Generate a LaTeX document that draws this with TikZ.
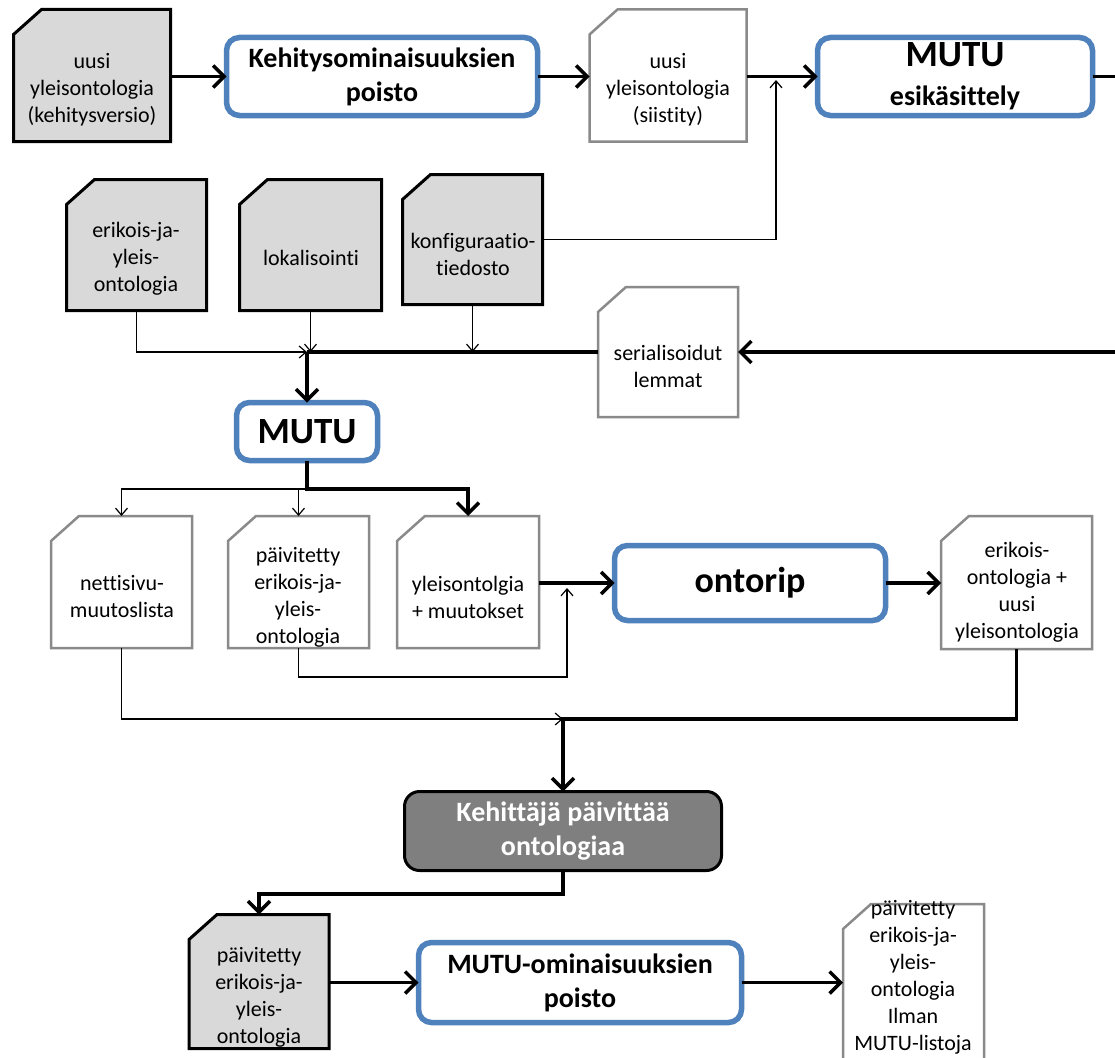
\documentclass[tikz,border=0pt]{standalone}
\usepackage{fontspec}
\setmainfont[Ligatures=NoCommon]{Carlito}
\usetikzlibrary{arrows.meta,backgrounds,calc}
\definecolor{docfill}{HTML}{D9D9D9}
\definecolor{framegray}{HTML}{8A8A8A}
\definecolor{boxblue}{HTML}{4F81BD}
\definecolor{devgray}{HTML}{7F7F7F}
\newcommand\docframe[2]{%
  \filldraw[#2] ([xshift=28pt]#1.north west) -- (#1.north east) -- (#1.south east)
    -- (#1.south west) -- ([yshift=-25pt]#1.north west) -- cycle;}
\tikzset{
  docarea/.style={inner sep=0pt, outer sep=0pt, minimum width=#1},
  darkdoc/.style={fill=docfill, draw=black, line width=3pt, line join=miter},
  lightdoc/.style={fill=white, draw=framegray, line width=2.5pt, line join=miter},
  doctext/.style={align=center, inner sep=0pt, font=\fontsize{22pt}{27pt}\selectfont},
  bluebox/.style={draw=boxblue, line width=5.5pt, fill=white, rounded corners=13pt,
    inner sep=0pt, outer sep=0pt, align=center,
    font=\bfseries\fontsize{28pt}{34pt}\selectfont},
  devbox/.style={draw=black, line width=3pt, fill=devgray, rounded corners=15pt,
    inner sep=0pt, outer sep=0pt, align=center, text=white,
    font=\bfseries\fontsize{28pt}{34pt}\selectfont},
  thk/.style={line width=3.5pt, line join=miter, -{Straight Barb[length=11pt,width=22pt]}},
  thkline/.style={line width=3.5pt, line join=miter},
  thn/.style={line width=1.2pt, -{Straight Barb[length=7pt,width=12pt]}},
}
\begin{document}
\begin{tikzpicture}[x=1pt,y=-1pt]
\useasboundingbox (0,0) rectangle (1115,1057);
% document areas (frames drawn on background layer)
\node[docarea=157pt, minimum height=132pt] (d1) at (92,75.5) {};
\node[docarea=157pt, minimum height=132pt] (d2) at (668,75.5) {};
\node[docarea=140pt, minimum height=131pt] (de) at (136.5,245) {};
\node[docarea=142pt, minimum height=131pt] (dl) at (310.5,245) {};
\node[docarea=140pt, minimum height=130pt] (dk) at (472.5,239.5) {};
\node[docarea=140pt, minimum height=130pt] (ds) at (668,352) {};
\node[docarea=141pt, minimum height=132pt] (dn) at (121.5,582) {};
\node[docarea=141pt, minimum height=132pt] (dp) at (298.5,582) {};
\node[docarea=142pt, minimum height=132pt] (dy) at (468,582) {};
\node[docarea=151pt, minimum height=133pt] (dr) at (1016.5,582.5) {};
\node[docarea=140pt, minimum height=134pt] (db) at (259,981.5) {};
\node[docarea=141pt, minimum height=171pt] (dz) at (913.5,989.5) {};
\begin{scope}[on background layer]
  \fill[white] (0,0) rectangle (1115,1057);
  \docframe{d1}{darkdoc}
  \docframe{d2}{lightdoc}
  \docframe{de}{darkdoc}
  \docframe{dl}{darkdoc}
  \docframe{dk}{darkdoc}
  \docframe{ds}{lightdoc}
  \docframe{dn}{lightdoc}
  \docframe{dp}{lightdoc}
  \docframe{dy}{lightdoc}
  \docframe{dr}{lightdoc}
  \docframe{db}{darkdoc}
  \docframe{dz}{lightdoc}
\end{scope}
% document texts
\node[doctext] (d1t) at (92,90) {uusi\\yleisontologia\\(kehitysversio)};
\node[doctext] (d2t) at (668,90) {uusi\\yleisontologia\\(siistity)};
\node[doctext] (det) at (136,259) {erikois-ja-\\yleis-\\ontologia};
\node[doctext] (dlt) at (311,258) {lokalisointi};
\node[doctext] (dkt) at (473,254) {konfiguraatio-\\tiedosto};
\node[doctext] (dst) at (668,366) {serialisoidut\\lemmat};
\node[doctext] (dnt) at (122,597) {nettisivu-\\muutoslista};
\node[doctext] (dpt) at (298,597) {päivitetty\\erikois-ja-\\yleis-\\ontologia};
\node[doctext] (dyt) at (468,597) {yleisontolgia\\+ muutokset};
\node[doctext] (drt) at (1017,592) {erikois-\\ontologia +\\uusi\\yleisontologia};
\node[doctext] (dbt) at (259,997) {päivitetty\\erikois-ja-\\yleis-\\ontologia};
\node[doctext] (dzt) at (913,977) {päivitetty\\erikois-ja-\\yleis-\\ontologia\\Ilman\\MUTU-listoja};
% process boxes
\node[bluebox, minimum width=311pt, minimum height=78pt] (kb) at (382,76.5) {Kehitysominaisuuksien\\poisto};
\node[bluebox, minimum width=275pt, minimum height=78pt, font=\bfseries\fontsize{28pt}{39pt}\selectfont] (mb) at (955,76.5) {{\fontsize{37pt}{39pt}\selectfont MUTU}\\esikäsittely};
\node[bluebox, minimum width=141pt, minimum height=58pt, font=\bfseries\fontsize{37pt}{40pt}\selectfont] (mu) at (307,431.5) {MUTU};
\node[bluebox, minimum width=271pt, minimum height=75pt, font=\bfseries\fontsize{36pt}{40pt}\selectfont] (on) at (750,583) {ontorip};
\node[devbox, minimum width=317pt, minimum height=79pt] (ke) at (563,831) {Kehittäjä päivittää\\ontologiaa};
\node[bluebox, minimum width=323pt, minimum height=80pt] (mo) at (580,982.5) {MUTU-ominaisuuksien\\poisto};
% coordinates
\coordinate (eR1) at (1117,76.5);
\coordinate (eR2) at (1117,352);
\coordinate (jk) at (776,80);
\coordinate (j1) at (307,352);
\coordinate (j2) at (307,489);
\coordinate (j3) at (567,588);
\coordinate (j3b) at (567,677);
\coordinate (j4) at (563,719);
\coordinate (j5) at (563,894);
% top row
\draw[thk] (d1.east|-kb) -- (kb.west);
\draw[thk] (kb.east) -- (kb.east-|d2.west);
\draw[thk] (d2.east|-mb) -- (mb.west);
\draw[thkline] (mb.east) -- (eR1);
\draw[thn] (dk.east) -| (jk);
% feed into MUTU
\draw[thk] (eR2) -- (ds.east);
\draw[thkline] (ds.west) -- (j1);
\draw[thk] (j1) -- (mu.north);
\draw[thn] (de.south) |- (j1);
\draw[thn] (dl.south) -- (dl.south|-j1);
\draw[thn] (dk.south) -- (dk.south|-j1);
% MUTU outputs
\draw[thk] (mu.south) -- (j2) -| (dy.north);
\draw[thn] (j2) -| (dn.north);
\draw[thn] (dp.north|-j2) -- (dp.north);
% ontorip
\draw[thk] (dy.east|-on) -- (on.west);
\draw[thn] (dp.south) |- (j3b) -- (j3);
\draw[thk] (on.east) -- (on.east-|dr.west);
% to developer
\draw[thk] (dr.south) |- (j4) -- (ke.north);
\draw[thn] (dn.south) |- (j4);
\draw[thk] (ke.south) -- (j5) -| (db.north);
% bottom row
\draw[thk] (db.east|-mo) -- (mo.west);
\draw[thk] (mo.east) -- (mo.east-|dz.west);
\end{tikzpicture}
\end{document}
